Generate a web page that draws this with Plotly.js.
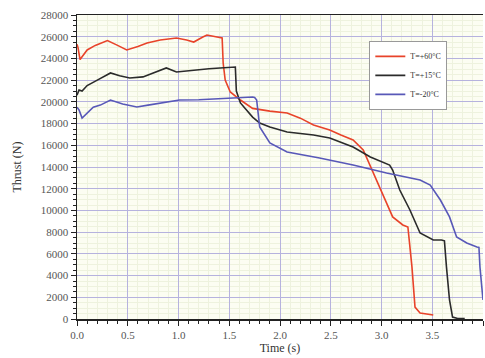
<!DOCTYPE html>
<html>
<head>
<meta charset="utf-8">
<script src="https://cdn.plot.ly/plotly-3.0.1.min.js"></script>
<style>html,body{margin:0;padding:0;background:#fff;}#chart{width:485px;height:358px;}</style>
</head>
<body>
<div id="chart"></div>
<script>
var seriesNames = ["T=+60°C", "T=+15°C", "T=-20°C"];

var tHot = [0, 0.01, 0.03, 0.1, 0.18, 0.26, 0.3, 0.4, 0.49, 0.6, 0.69, 0.82, 0.98, 1.08, 1.15, 1.24, 1.28, 1.38, 1.43, 1.44, 1.46, 1.51, 1.61, 1.73, 1.9, 2.07, 2.2, 2.33, 2.49, 2.6, 2.72, 2.82, 2.92, 3.01, 3.11, 3.21, 3.26, 3.30, 3.33, 3.38, 3.45, 3.51];
var fHot = [25300, 25000, 23900, 24780, 25200, 25510, 25650, 25200, 24780, 25100, 25420, 25700, 25880, 25700, 25510, 25970, 26160, 25970, 25880, 23580, 22010, 20910, 20170, 19400, 19150, 18970, 18500, 17870, 17400, 16950, 16490, 15570, 13450, 11600, 9400, 8660, 8470, 4800, 1100, 550, 450, 370];

var tMid = [0, 0.02, 0.05, 0.1, 0.2, 0.33, 0.42, 0.52, 0.65, 0.82, 0.88, 0.98, 1.15, 1.3, 1.41, 1.56, 1.57, 1.61, 1.73, 1.8, 1.9, 2.07, 2.33, 2.49, 2.72, 2.89, 3.08, 3.11, 3.18, 3.28, 3.38, 3.51, 3.59, 3.62, 3.64, 3.67, 3.70, 3.75, 3.82];
var fMid = [20600, 21100, 21000, 21500, 22000, 22660, 22400, 22200, 22300, 22930, 23120, 22750, 22930, 23050, 23120, 23210, 21000, 19900, 18600, 18050, 17680, 17220, 16950, 16670, 15840, 14920, 14180, 13720, 11880, 10040, 7920, 7280, 7280, 7200, 4800, 1750, 180, 50, 50];

var tCold = [0, 0.02, 0.05, 0.08, 0.16, 0.23, 0.33, 0.45, 0.59, 0.7, 0.82, 1.01, 1.2, 1.48, 1.6, 1.73, 1.75, 1.77, 1.8, 1.9, 2.07, 2.39, 2.72, 3.05, 3.38, 3.48, 3.58, 3.67, 3.74, 3.84, 3.94, 3.96, 3.97, 4.0];
var fCold = [19500, 19250, 18500, 18790, 19500, 19700, 20170, 19800, 19530, 19700, 19900, 20170, 20200, 20350, 20400, 20450, 20400, 20170, 17680, 16210, 15380, 14830, 14180, 13450, 12800, 12340, 10960, 9400, 7550, 7000, 6630, 6600, 4790, 1750];

var xTickVals = [0, 0.5, 1, 1.5, 2, 2.5, 3, 3.5, 4];
var xTickText = ["0.0", "0.5", "1.0", "1.5", "2.0", "2.5", "3.0", "3.5", "4.0"];
var yTickVals = [0, 2000, 4000, 6000, 8000, 10000, 12000, 14000, 16000, 18000, 20000, 22000, 24000, 26000, 28000];
var yTickText = ["0", "2000", "4000", "6000", "8000", "10000", "12000", "14000", "16000", "18000", "20000", "22000", "24000", "26000", "28000"];

var colors = ["#e8432a", "#2b2b2b", "#5858b8"];
var traces = [
  {x: tHot, y: fHot, name: seriesNames[0], mode: "lines", line: {color: colors[0], width: 1.6}},
  {x: tMid, y: fMid, name: seriesNames[1], mode: "lines", line: {color: colors[1], width: 1.6}},
  {x: tCold, y: fCold, name: seriesNames[2], mode: "lines", line: {color: colors[2], width: 1.6}}
];

var fontFam = "Liberation Serif, Times New Roman, serif";
var layout = {
  width: 485, height: 358,
  margin: {l: 77, r: 2, t: 15, b: 39},
  paper_bgcolor: "#ffffff",
  plot_bgcolor: "#fcfdf2",
  font: {family: fontFam, size: 11, color: "#444"},
  showlegend: true,
  legend: {
    x: 0.72, y: 0.915, xanchor: "left", yanchor: "top",
    bgcolor: "#ffffff", bordercolor: "#999", borderwidth: 1,
    font: {family: fontFam, size: 8, color: "#333"},
    itemwidth: 30, tracegroupgap: 0
  },
  xaxis: {
    range: [0, 4], tickvals: xTickVals, ticktext: xTickText,
    showline: true, linecolor: "#222", linewidth: 1.5, mirror: true,
    ticks: "outside", ticklen: 5, tickcolor: "#222",
    showgrid: true, gridcolor: "#b6b2de", gridwidth: 1,
    zeroline: false,
    minor: {dtick: 0.1, ticks: "outside", ticklen: 3, tickcolor: "#222", showgrid: true, gridcolor: "#eef2de", gridwidth: 1},
    title: {text: "Time (s)", font: {family: fontFam, size: 12, color: "#333"}, standoff: 4},
    tickfont: {family: fontFam, size: 11, color: "#555"}
  },
  yaxis: {
    range: [0, 28000], tickvals: yTickVals, ticktext: yTickText,
    showline: true, linecolor: "#222", linewidth: 1.5,
    ticks: "outside", ticklen: 5, tickcolor: "#222",
    showgrid: true, gridcolor: "#b6b2de", gridwidth: 1,
    zeroline: false,
    minor: {dtick: 500, ticks: "outside", ticklen: 3, tickcolor: "#222", showgrid: true, gridcolor: "#eef2de", gridwidth: 1},
    title: {text: "Thrust (N)", font: {family: fontFam, size: 12, color: "#333"}, standoff: 16},
    tickfont: {family: fontFam, size: 11, color: "#555"}
  }
};

Plotly.newPlot("chart", traces, layout, {displayModeBar: false, staticPlot: true});
</script>
</body>
</html>
